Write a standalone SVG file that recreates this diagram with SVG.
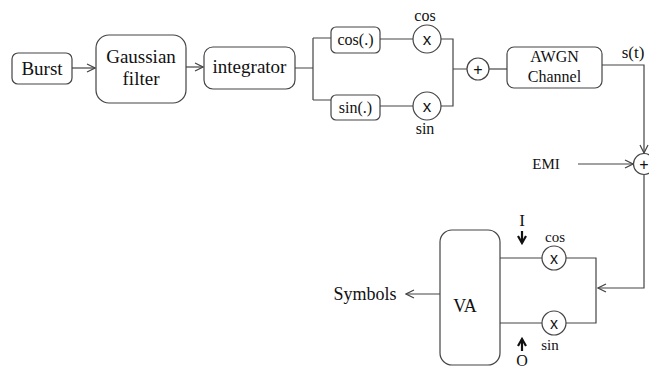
<svg xmlns="http://www.w3.org/2000/svg" width="649" height="370" viewBox="0 0 649 370">
<defs>
<marker id="ah" markerWidth="10" markerHeight="10" refX="9" refY="5" orient="auto" markerUnits="userSpaceOnUse">
<path d="M1,1 L9,5 L1,9" fill="none" stroke="#444" stroke-width="1.2"/>
</marker>
<marker id="bh" markerWidth="10" markerHeight="10" refX="8" refY="5" orient="auto" markerUnits="userSpaceOnUse">
<path d="M1,1 L8,5 L1,9" fill="none" stroke="#111" stroke-width="2.2"/>
</marker>
<style>
.box{fill:#fff;stroke:#444;stroke-width:1.2}
.ln{fill:none;stroke:#444;stroke-width:1.2}
.t{font-family:"Liberation Serif","Times New Roman",serif;fill:#111;text-anchor:middle}
.s{font-family:"Liberation Sans",Arial,sans-serif;fill:#111;text-anchor:middle}
.bold{fill:none;stroke:#111;stroke-width:2.2}
</style>
</defs>
<rect width="649" height="370" fill="#fff"/>
<g id="connectors">
<path class="ln" d="M72,68 H95" marker-end="url(#ah)"/>
<path class="ln" d="M186,67 H203" marker-end="url(#ah)"/>
<path class="ln" d="M295,68 H313 M313,38 V100 M313,38 H331 M313,100 H331"/>
<path class="ln" d="M380,39 H413 M380,106 H413"/>
<path class="ln" d="M441,39 H453 V106 H441 M453,69 H467"/>
<path class="ln" d="M489,69 H507"/>
<path class="ln" d="M602,65 H644 V153" marker-end="url(#ah)"/>
<path class="ln" d="M578,164 H633" marker-end="url(#ah)"/>
<path class="ln" d="M644,175 V288 H598" marker-end="url(#ah)"/>
<path class="ln" d="M566,258 H596 V323 H566"/>
<path class="ln" d="M542,258 H500 M542,323 H500"/>
<path class="ln" d="M440,294 H406" marker-end="url(#ah)"/>
<path class="bold" d="M522,231 V243" marker-end="url(#bh)"/>
<path class="bold" d="M522,351 V339" marker-end="url(#bh)"/>
</g>
<g id="burst"><rect class="box" x="12" y="53" width="60" height="31" rx="6"/><text class="t" x="42" y="75" font-size="19">Burst</text></g>
<g id="gaussian"><rect class="box" x="96" y="35" width="90" height="68" rx="13"/><text class="t" x="141" y="63" font-size="19">Gaussian</text><text class="t" x="141" y="85" font-size="19">filter</text></g>
<g id="integrator"><rect class="box" x="204" y="47" width="91" height="42" rx="9"/><text class="t" x="249.5" y="73" font-size="19">integrator</text></g>
<g id="cosbox"><rect class="box" x="331" y="27" width="49" height="26" rx="5"/><text class="t" x="355.5" y="45" font-size="16">cos(.)</text></g>
<g id="sinbox"><rect class="box" x="331" y="95" width="49" height="25" rx="5"/><text class="t" x="355.5" y="113" font-size="16">sin(.)</text></g>
<g id="mulcos"><circle class="box" cx="427" cy="39" r="14"/><text class="s" x="427" y="45" font-size="17">x</text><text class="t" x="425" y="21" font-size="16">cos</text></g>
<g id="mulsin"><circle class="box" cx="427" cy="106" r="14"/><text class="s" x="427" y="112" font-size="17">x</text><text class="t" x="425" y="134" font-size="16">sin</text></g>
<g id="sum1"><circle class="box" cx="478" cy="69" r="11"/><text class="s" x="478" y="75" font-size="16">+</text></g>
<g id="awgn"><rect class="box" x="507" y="47" width="95" height="41" rx="7"/><text class="t" x="554.5" y="62" font-size="16">AWGN</text><text class="t" x="554.5" y="82" font-size="16">Channel</text></g>
<g id="st"><text class="t" x="633" y="58" font-size="17">s(t)</text></g>
<g id="emi"><text class="t" x="546" y="169" font-size="15">EMI</text></g>
<g id="sum2"><circle class="box" cx="644" cy="164" r="10.5"/><text class="s" x="644" y="170" font-size="16">+</text></g>
<g id="mulcos2"><circle class="box" cx="554" cy="258" r="12"/><text class="s" x="554" y="264" font-size="16">x</text><text class="t" x="555" y="242" font-size="15">cos</text></g>
<g id="mulsin2"><circle class="box" cx="554" cy="323" r="12"/><text class="s" x="554" y="329" font-size="16">x</text><text class="t" x="550" y="350" font-size="15">sin</text></g>
<g id="va"><rect class="box" x="440" y="230" width="60" height="135" rx="12"/><text class="t" x="465" y="312" font-size="18">VA</text></g>
<g id="symbols"><text class="t" x="365" y="300" font-size="18">Symbols</text></g>
<g id="labelI"><text class="t" x="522" y="226" font-size="17">I</text></g>
<g id="labelO"><text class="t" x="522" y="366" font-size="16">O</text></g>
</svg>
